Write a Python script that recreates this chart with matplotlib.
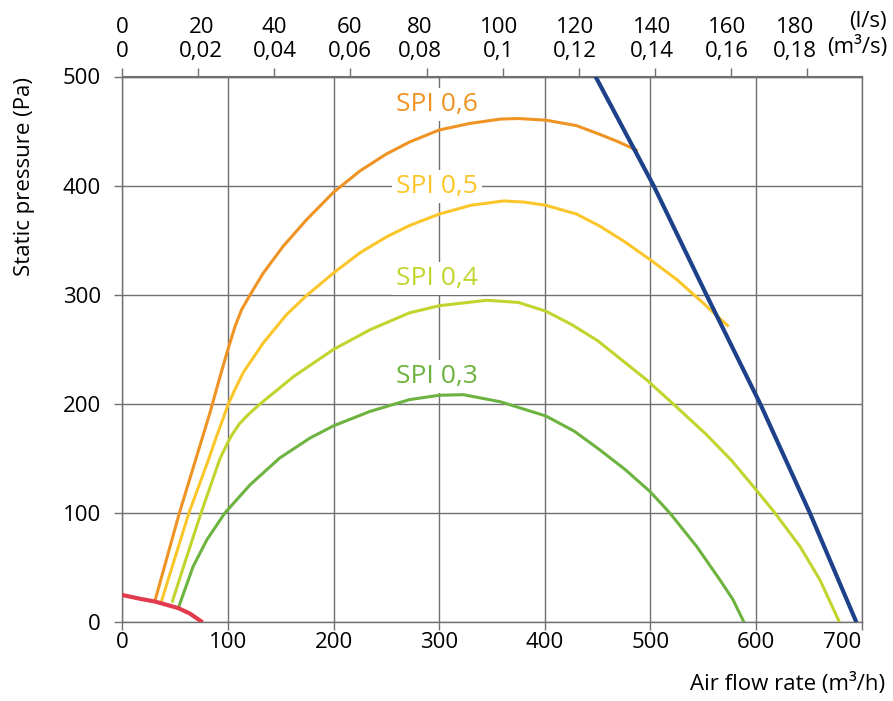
import matplotlib
matplotlib.use("Agg")
import matplotlib.pyplot as plt
from matplotlib.transforms import ScaledTranslation

plt.rcParams['font.family'] = ['Open Sans', 'DejaVu Sans']

# curves: air flow (m3/h) vs static pressure (Pa)
spi06_x = [31, 54, 83, 92.5, 100, 106.7, 113, 121, 133.5, 152.4, 174.6, 200, 225, 250, 272, 300, 329, 358, 375, 401, 430, 452, 470, 488]
spi06_y = [20, 100, 192, 225, 250, 271, 286.5, 300, 320, 344.6, 369, 394, 413.5, 429, 440, 451, 457, 461, 461.5, 460, 455, 447, 440, 432]

spi05_x = [37, 63, 82, 88, 100.4, 107, 114.6, 133.5, 155.6, 174.6, 200, 225, 250, 272, 300, 330, 361, 380, 401, 430, 452, 475, 500, 525, 547, 574]
spi05_y = [19, 100, 150, 167, 200, 214, 229, 256, 282, 299.5, 320, 338.5, 353, 363.5, 374, 382, 386, 385, 382, 374, 363, 349, 332, 314, 295, 271]

spi04_x = [47, 60, 74.5, 92.5, 100, 104, 111, 120, 130.4, 162, 200, 234.5, 272, 300, 345, 375, 401, 425, 450, 496.5, 521.6, 553, 577, 600, 618, 641.6, 660.5, 679]
spi04_y = [18, 57, 100, 150, 165, 172, 182, 191, 200, 225, 250, 268, 283.5, 290, 295, 293, 285, 273, 258, 222, 200, 172, 148, 121.4, 100, 69.4, 38.8, 0]

spi03_x = [53, 67, 80, 97, 121, 149, 177.7, 200, 234.5, 272, 300, 323, 358, 401, 428, 452, 476, 499.6, 518.5, 543.8, 565.8, 578, 588.6]
spi03_y = [13, 51, 75.5, 100, 126, 150.5, 168.8, 180, 193.2, 204, 208, 208.5, 202, 189, 175, 158, 140, 119.8, 100, 69.4, 38.8, 21, 0]

limit_x = [448, 503, 553, 604, 651, 695]
limit_y = [500, 400, 300, 200, 100, 0]

min_x = [0, 17, 31, 53, 64, 76]
min_y = [25, 21.5, 19, 13, 8, 0]

x_ticks = [0, 100, 200, 300, 400, 500, 600, 700]
y_ticks = [0, 100, 200, 300, 400, 500]
ls_ticks = [0, 20, 40, 60, 80, 100, 120, 140, 160, 180]
m3s_labels = ["0", "0,02", "0,04", "0,06", "0,08", "0,1", "0,12", "0,14", "0,16", "0,18"]

c_orange = '#EF9424'
c_yellow = '#FBC62B'
c_ygreen = '#C2D42E'
c_green = '#6DB33F'
c_blue = '#1D428A'
c_red = '#E23B4E'
c_grid = '#707070'

W, H = 893, 701
fig = plt.figure(figsize=(W / 100, H / 100), dpi=100)
ax = fig.add_axes([122.3 / W, 1 - 622.3 / H, (861.7 - 122.3) / W, (622.3 - 76.5) / H])

ax.plot(spi03_x, spi03_y, color=c_green, lw=2.2, solid_capstyle='butt', zorder=3)
ax.plot(spi04_x, spi04_y, color=c_ygreen, lw=2.2, solid_capstyle='butt', zorder=3)
ax.plot(spi05_x, spi05_y, color=c_yellow, lw=2.2, solid_capstyle='butt', zorder=3)
ax.plot(spi06_x, spi06_y, color=c_orange, lw=2.2, solid_capstyle='butt', zorder=3)
ax.plot(limit_x, limit_y, color=c_blue, lw=3.0, solid_capstyle='butt', zorder=4)
ax.plot(min_x, min_y, color=c_red, lw=3.0, solid_capstyle='butt', zorder=5)

ax.set_xlim(0, 700)
ax.set_ylim(0, 500)
ax.set_xticks(x_ticks, [str(v) for v in x_ticks])
ax.set_yticks(y_ticks, [str(v) for v in y_ticks])
ax.xaxis.get_ticklabels()[-1].set_horizontalalignment('right')
ax.grid(True, color=c_grid, lw=1.0, zorder=1)
ax.set_axisbelow(True)
for s in ax.spines.values():
    s.set_color(c_grid)
    s.set_linewidth(1.0)
ax.tick_params(axis='x', length=5.5, width=1, color=c_grid, pad=1.5, labelsize=16)
ax.tick_params(axis='y', length=5.5, width=1, color=c_grid, pad=10, labelsize=16)

# top axis in l/s and m3/s
top = ax.secondary_xaxis('top', functions=(lambda x: x / 3.6, lambda x: x * 3.6))
top.set_xticks(ls_ticks, [f"{a}\n{b}" for a, b in zip(ls_ticks, m3s_labels)])
top.tick_params(length=5.5, width=1, color=c_grid, pad=5, labelsize=16)
top.spines['top'].set_color(c_grid)
# labels in the original sit a little left of their ticks
nudge_px = [0, 3, 0, -1, -7, -4, -4, -3, -4, -12]
for lab, dx in zip(top.get_xticklabels(), nudge_px):
    lab.set_transform(lab.get_transform() + ScaledTranslation(dx / 100, 0, fig.dpi_scale_trans))

# curve labels
for txt, ty, col in [("SPI 0,6", 474.6, c_orange), ("SPI 0,5", 399.4, c_yellow),
                     ("SPI 0,4", 315, c_ygreen), ("SPI 0,3", 225.5, c_green)]:
    ax.text(298, ty, txt, color=col, fontsize=19, ha='center', va='center', zorder=2,
            bbox=dict(boxstyle='square,pad=0.15', fc='white', ec='none'))

fig.text(887 / W, 1 - 21.5 / H, "(l/s)", ha='right', va='center', fontsize=16)
fig.text(887 / W, 1 - 47 / H, "(m³/s)", ha='right', va='center', fontsize=16)
fig.text(885 / W, 1 - 684 / H, "Air flow rate (m³/h)", ha='right', va='center', fontsize=16)
fig.text(25 / W, 1 - 176.5 / H, "Static pressure (Pa)", ha='center', va='center', rotation=90, fontsize=16)

fig.savefig('out.png', dpi=100)
